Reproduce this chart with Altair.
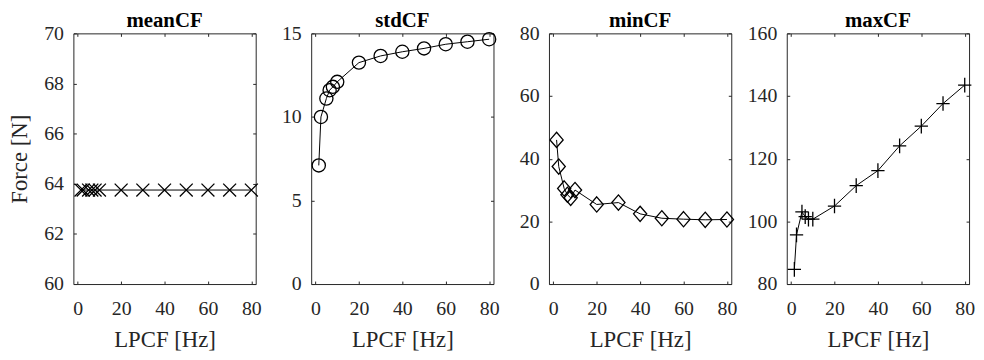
import altair as alt
import pandas as pd

# ---- data ----
lpcf = [1.5, 2.5, 5, 6.5, 8, 10, 20, 30, 40, 50, 60, 70, 80]
mean_cf = [63.75, 63.75, 63.75, 63.75, 63.75, 63.75, 63.75, 63.75, 63.75, 63.75, 63.75, 63.75, 63.75]
std_cf = [7.1, 10.0, 11.1, 11.6, 11.8, 12.1, 13.25, 13.65, 13.9, 14.1, 14.35, 14.5, 14.65]
min_cf = [46.0, 37.5, 30.5, 28.5, 27.5, 30.0, 25.4, 26.0, 22.4, 21.0, 20.7, 20.5, 20.6]
max_cf = [84.7, 95.7, 103.0, 101.5, 100.7, 100.7, 104.9, 111.4, 116.2, 124.1, 130.4, 137.6, 143.5]

x_ticks = [0, 20, 40, 60, 80]
titles = ["meanCF", "stdCF", "minCF", "maxCF"]
y_domains = [[60, 70], [0, 15], [0, 80], [80, 160]]
y_ticks = [[60, 62, 64, 66, 68, 70], [0, 5, 10, 15], [0, 20, 40, 60, 80], [80, 100, 120, 140, 160]]
series = [mean_cf, std_cf, min_cf, max_cf]

X_SHAPE = "M-1,-1L1,1M-1,1L1,-1"
CIRCLE = "circle"
DIAMOND = "M0,-1.1L0.95,0L0,1.1L-0.95,0Z"
PLUS = "M-1,0L1,0M0,-1.1L0,1.1"
shapes = [X_SHAPE, CIRCLE, DIAMOND, PLUS]
sizes = [170, 177, 196, 180]

FONT = "Liberation Serif"
GRAY = "#262626"
W, H = 184, 253
TK = 3


def panel(i):
    df = pd.DataFrame({"LPCF": lpcf, "v": series[i]})
    xs = alt.Scale(domain=[-2, 82], nice=False, zero=False)
    ys = alt.Scale(domain=y_domains[i], nice=False, zero=False)
    base = alt.Chart(df)
    left_axis = alt.Axis(
        values=y_ticks[i], orient="left", offset=-TK, tickSize=TK,
        labelPadding=10, title="Force [N]" if i == 0 else None,
        titlePadding=12,
    )
    line = base.mark_line(color="black", strokeWidth=1).encode(
        x=alt.X("LPCF:Q", scale=xs, axis=alt.Axis(
            values=x_ticks, orient="bottom", offset=-TK, tickSize=TK,
            labelPadding=15, title="LPCF [Hz]", titlePadding=10)),
        y=alt.Y("v:Q", scale=ys, axis=left_axis),
    )
    pts = base.mark_point(
        shape=shapes[i], size=sizes[i], filled=False, color="black",
        strokeWidth=1.3, opacity=1,
    ).encode(
        x=alt.X("LPCF:Q", scale=xs, axis=alt.Axis(
            values=x_ticks, orient="top", offset=-TK, tickSize=TK,
            labels=False, title=None)),
        y=alt.Y("v:Q", scale=ys, axis=alt.Axis(
            values=y_ticks[i], orient="right", offset=-TK, tickSize=TK,
            labels=False, title=None)),
    )
    return (
        alt.layer(line, pts)
        .resolve_axis(x="independent", y="independent")
        .properties(width=W, height=H, title=titles[i])
    )


chart = (
    alt.hconcat(*[panel(i) for i in range(4)], spacing=56, bounds="flush")
    .properties(padding={"left": 0, "top": 0, "right": 0, "bottom": 0},
                background="white")
    .configure_view(stroke=GRAY, strokeWidth=1)
    .configure_axis(
        domain=False, grid=False, tickColor=GRAY, tickWidth=1,
        labelFont=FONT, labelFontSize=20, labelColor=GRAY,
        titleFont=FONT, titleFontSize=23, titleFontWeight="normal",
        titleColor=GRAY,
    )
    .configure_title(
        font=FONT, fontSize=21, fontWeight="bold", color="black",
        anchor="middle", baseline="alphabetic", offset=-8,
    )
)

chart.save("out.html", embed_options={"renderer": "svg", "actions": False})
